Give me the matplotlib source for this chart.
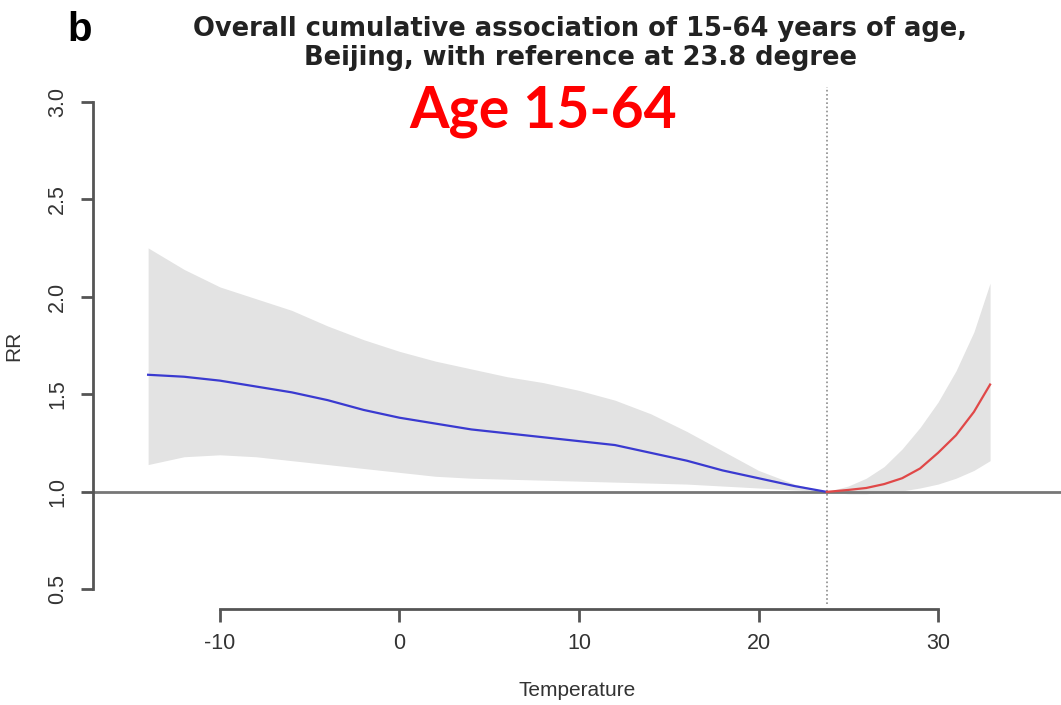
import numpy as np
import matplotlib
matplotlib.use("Agg")
from matplotlib import pyplot as plt

plt.rcParams['font.family'] = ['Liberation Sans', 'DejaVu Sans']

# cold side (below reference temperature)
temp_cold = [-14, -12, -10, -8, -6, -4, -2, 0, 2, 4, 6, 8, 10, 12, 14, 16, 18, 20, 22, 23.8]
rr_cold = [1.60, 1.59, 1.57, 1.54, 1.51, 1.47, 1.42, 1.38, 1.35, 1.32,
           1.30, 1.28, 1.26, 1.24, 1.20, 1.16, 1.11, 1.07, 1.03, 1.00]
upper_cold = [2.25, 2.14, 2.05, 1.99, 1.93, 1.85, 1.78, 1.72, 1.67, 1.63,
              1.59, 1.56, 1.52, 1.47, 1.40, 1.31, 1.21, 1.11, 1.04, 1.00]
lower_cold = [1.14, 1.18, 1.19, 1.18, 1.16, 1.14, 1.12, 1.10, 1.08, 1.07,
              1.065, 1.06, 1.055, 1.05, 1.045, 1.04, 1.03, 1.02, 1.01, 1.00]

# hot side (above reference temperature)
temp_hot = [23.8, 25, 26, 27, 28, 29, 30, 31, 32, 32.9]
rr_hot = [1.00, 1.01, 1.02, 1.04, 1.07, 1.12, 1.20, 1.29, 1.41, 1.55]
upper_hot = [1.00, 1.03, 1.07, 1.13, 1.22, 1.33, 1.46, 1.62, 1.82, 2.07]
lower_hot = [1.00, 0.99, 0.99, 1.00, 1.005, 1.02, 1.04, 1.07, 1.11, 1.16]

ref_temp = 23.8
x_ticks = [-10, 0, 10, 20, 30]
y_ticks = [0.5, 1.0, 1.5, 2.0, 2.5, 3.0]

fig = plt.figure(figsize=(10.61, 7.05), dpi=100)
ax = fig.add_axes([93 / 1061, 96 / 705, 1 - 93 / 1061, 527 / 705])

temp_all = temp_cold + temp_hot[1:]
upper_all = upper_cold + upper_hot[1:]
lower_all = lower_cold + lower_hot[1:]
ax.fill_between(temp_all, lower_all, upper_all, color="#e3e3e3", lw=0)

ax.axhline(1.0, color="#777777", lw=2)
ax.axvline(ref_temp, ymin=0.01, ymax=0.99, color="#8c8c8c", lw=1.2, ls=(0, (1, 1.5)))

ax.plot(temp_cold, rr_cold, color="#3a3ad0", lw=1.6)
ax.plot(temp_hot, rr_hot, color="#e04848", lw=1.6)

ax.set_xlim(-17.07, 36.85)
ax.set_ylim(0.4, 3.1)

for s in ["top", "right"]:
    ax.spines[s].set_visible(False)
ax.spines["left"].set_bounds(0.5, 3.0)
ax.spines["bottom"].set_bounds(-10, 30)
for s in ["left", "bottom"]:
    ax.spines[s].set_color("#555555")
    ax.spines[s].set_linewidth(2)

ax.set_xticks(x_ticks)
ax.set_xticklabels([str(t) for t in x_ticks])
ax.set_yticks(y_ticks)
ax.set_yticklabels([f"{t:.1f}" for t in y_ticks], rotation=90, va="center")
ax.tick_params(axis="both", direction="out", length=9, width=2, color="#555555",
               labelsize=15.5, labelcolor="#333333")
ax.tick_params(axis="x", pad=8)
ax.tick_params(axis="y", pad=9)

ax.set_xlabel("Temperature", fontsize=15, color="#333333", labelpad=20)
ax.set_ylabel("RR", fontsize=15, color="#333333", labelpad=17)

fig.text(0.547, 0.9376, "Overall cumulative association of 15-64 years of age,\nBeijing, with reference at 23.8 degree",
         ha="center", va="center", fontsize=18.5, fontweight="bold", color="#222222", linespacing=1.15,
         family=["DejaVu Sans"])
fig.text(0.075, 0.958, "b", ha="center", va="center", fontsize=29, fontweight="bold", color="black")
fig.text(0.512, 0.842, "Age 15-64", ha="center", va="center", fontsize=41, fontweight="bold",
         color="#ff0000", family=["Lato", "DejaVu Sans"])

fig.savefig("out.png", dpi=100)
